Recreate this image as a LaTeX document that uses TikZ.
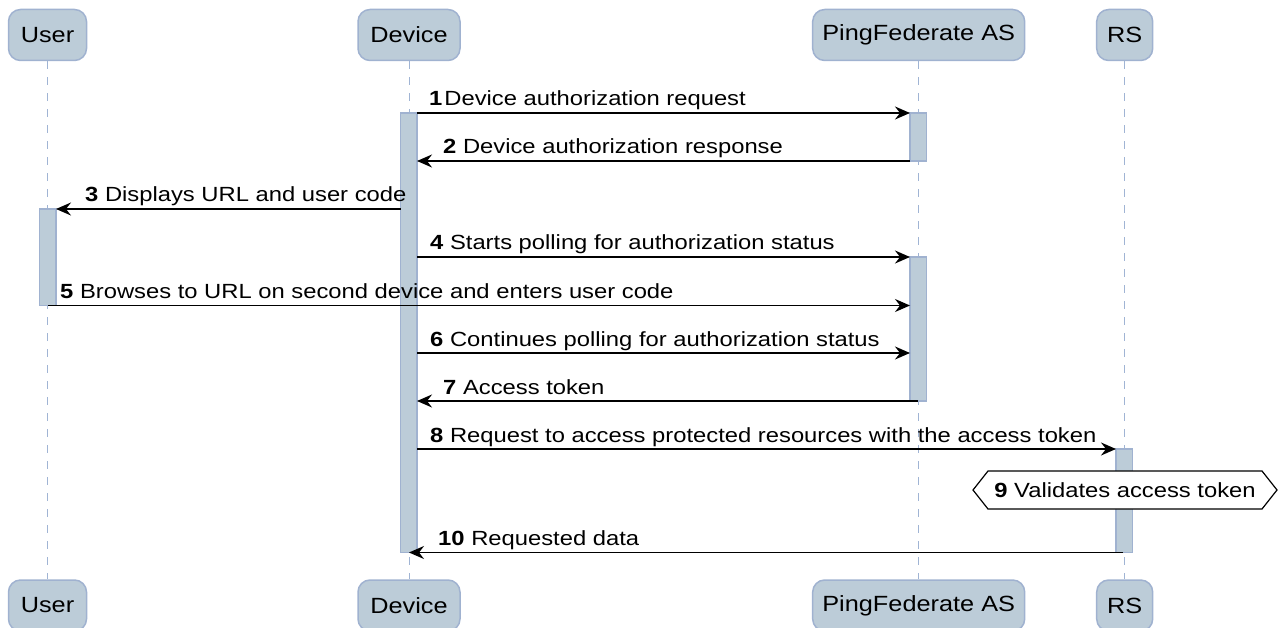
\documentclass[tikz,border=0pt]{standalone}
\usepackage{fontspec}
\setmainfont{Liberation Sans}
\newfontfamily\hfont[FakeStretch=1.15]{Liberation Sans}
\newfontfamily\mfont[FakeStretch=1.16]{Liberation Sans}
\usetikzlibrary{arrows.meta}
\definecolor{partfill}{RGB}{188,204,216}
\definecolor{partline}{RGB}{160,178,208}
\definecolor{lifeline}{RGB}{160,180,212}
\tikzset{
  head/.style={draw=partline, fill=partfill, line width=1.5pt, rounded corners=12pt,
    minimum height=51pt, inner sep=0pt, font=\hfont\fontsize{22}{24}\selectfont, text=black},
  life/.style={draw=lifeline, line width=1pt, dash pattern=on 8pt off 8pt},
  actbar/.style={draw=partline, fill=partfill, line width=1.2pt},
  msg/.style={draw=black, line width=1.6pt, -{Stealth[length=15pt,width=13pt,inset=5pt]}},
  lbl/.style={anchor=base west, inner sep=0pt, font=\mfont\fontsize{20.5}{22}\selectfont},
}
\begin{document}
\begin{tikzpicture}[x=1pt,y=-1pt]
\useasboundingbox (0,0) rectangle (1282,628);
% heads
\node[head, minimum width=78pt] (uT) at (47.5,35) {\raisebox{-1.5pt}{User}};
\node[head, minimum width=102pt] (dT) at (409,35) {\raisebox{-1.5pt}{Device}};
\node[head, minimum width=212pt] (pT) at (918.7,35) {\raisebox{-1.5pt}{PingFederate AS}};
\node[head, minimum width=56pt] (rT) at (1124.7,35) {\raisebox{-1.5pt}{RS}};
\node[head, minimum width=78pt] (uB) at (47.5,605.5) {\raisebox{-1.5pt}{User}};
\node[head, minimum width=102pt] (dB) at (409,605.5) {\raisebox{-1.5pt}{Device}};
\node[head, minimum width=212pt] (pB) at (918.7,605.5) {\raisebox{-1.5pt}{PingFederate AS}};
\node[head, minimum width=56pt] (rB) at (1124.7,605.5) {\raisebox{-1.5pt}{RS}};
% lifelines
\draw[life] (uT.south) -- (uB.north);
\draw[life] (dT.south) -- (dB.north);
\draw[life] (pT.south) -- (pB.north);
\draw[life] (rT.south) -- (rB.north);
% activation bars
\draw[actbar] (400.5,113) rectangle (417,552.5);
\draw[actbar] (910,113) rectangle (926.5,161);
\draw[actbar] (910,257) rectangle (926.5,401);
\draw[actbar] (39.5,209) rectangle (56,305.5);
\draw[actbar] (1116,449) rectangle (1132.5,552.5);
% message end points
\coordinate (m1a) at (417,113);   \coordinate (m1b) at (910,113);
\coordinate (m2a) at (910,161);   \coordinate (m2b) at (417,161);
\coordinate (m3a) at (400.5,209); \coordinate (m3b) at (56,209);
\coordinate (m4a) at (417,257);   \coordinate (m4b) at (910,257);
\coordinate (m5a) at (48,305.5);  \coordinate (m5b) at (910,305.5);
\coordinate (m6a) at (417,353);   \coordinate (m6b) at (910,353);
\coordinate (m7a) at (918,401);   \coordinate (m7b) at (417,401);
\coordinate (m8a) at (417,449);   \coordinate (m8b) at (1116,449);
\coordinate (m10a) at (1123,552.5); \coordinate (m10b) at (409,552.5);
% messages
\draw[msg] (m1a) -- (m1b);
\draw[msg] (m2a) -- (m2b);
\draw[msg] (m3a) -- (m3b);
\draw[msg] (m4a) -- (m4b);
\draw[msg] (m5a) -- (m5b);
\draw[msg] (m6a) -- (m6b);
\draw[msg] (m7a) -- (m7b);
\draw[msg] (m8a) -- (m8b);
\draw[msg] (m10a) -- (m10b);
% labels
\node[lbl] (l1) at (429,106) {\textbf{1}\kern2pt Device authorization request};
\node[lbl] (l2) at (443,154) {\textbf{2} Device authorization response};
\node[lbl] (l3) at (85,202) {\textbf{3} Displays URL and user code};
\node[lbl] (l4) at (430,250) {\textbf{4} Starts polling for authorization status};
\node[lbl] (l5) at (60,298.5) {\textbf{5} Browses to URL on second device and enters user code};
\node[lbl] (l6) at (430,346) {\textbf{6} Continues polling for authorization status};
\node[lbl] (l7) at (443,394) {\textbf{7} Access token};
\node[lbl] (l8) at (430,442) {\textbf{8} Request to access protected resources with the access token};
\node[lbl] (l10) at (438,545.5) {\textbf{10} Requested data};
% self step 9
\draw[fill=white, line width=1.2pt] (973,490) -- (988,471) -- (1262,471) -- (1277,490) -- (1262,509) -- (988,509) -- cycle;
\node[lbl, anchor=base] (l9) at (1125,497.5) {\textbf{9} Validates access token};
\end{tikzpicture}
\end{document}
